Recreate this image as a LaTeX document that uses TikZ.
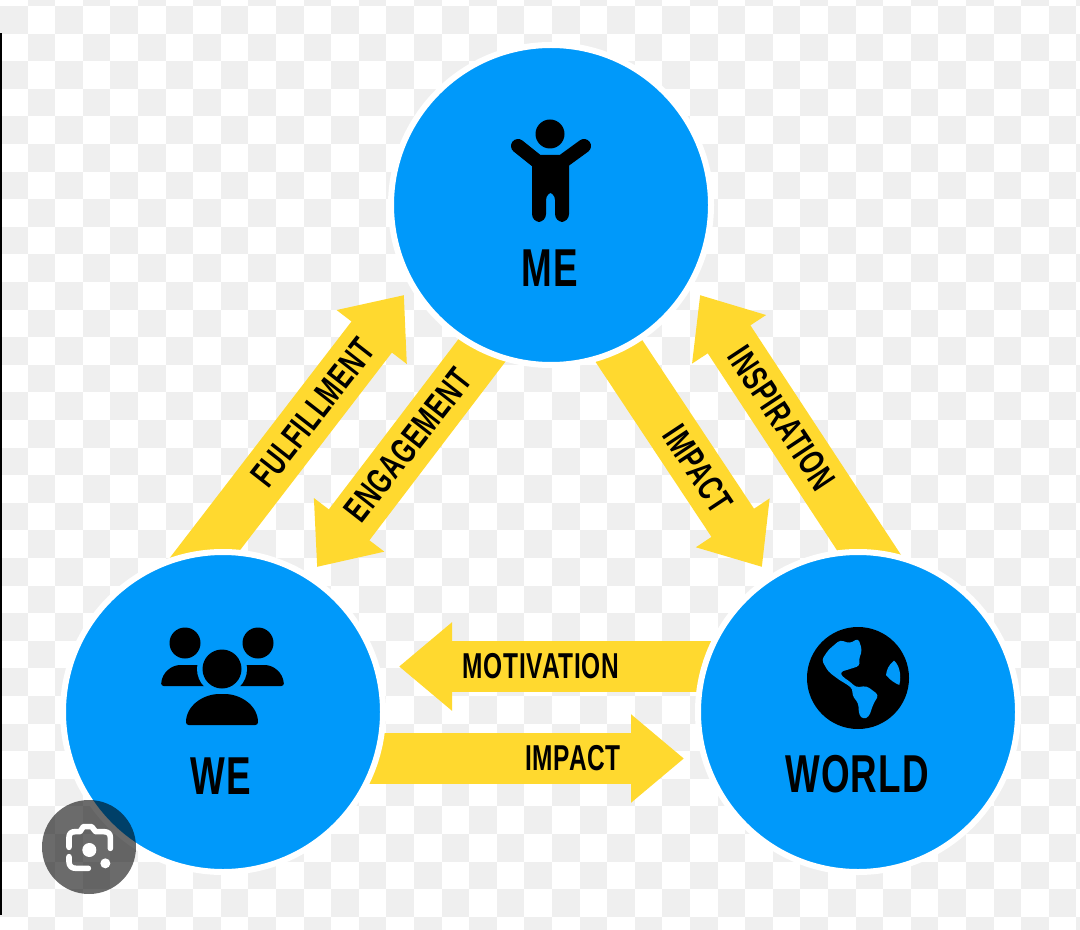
\documentclass[tikz,border=0pt]{standalone}
\usepackage{fontspec}
\usetikzlibrary{arrows.meta}
\setmainfont[LetterSpace=3,BoldFont={Liberation Sans Bold}]{Liberation Sans}
\definecolor{bluefill}{HTML}{0099FA}
\definecolor{yellowfill}{HTML}{FFD92F}
\definecolor{cellgrey}{HTML}{EFEFEF}
\pgfdeclarelayer{arrowlayer}
\pgfdeclarelayer{checker}
\pgfsetlayers{checker,arrowlayer,main}
\tikzset{
  hub/.style={circle,fill=bluefill,draw=white,line width=4.5pt,minimum size=240pt,inner sep=0pt},
  hublabel/.style={font=\fontsize{40}{40}\selectfont\bfseries,inner sep=0pt,text=black,xscale=0.69},
  bandlabel/.style={font=\fontsize{27}{27}\selectfont\bfseries,inner sep=0pt,text=black,xscale=0.68},
  bandarrow/.style={draw=yellowfill,line width=38.25pt,-{Triangle[length=39.75pt,width=63.75pt,fill=yellowfill]}},
  icon/.style={fill=black,draw=none},
  lensline/.style={draw=white,line width=4.2pt,line cap=round,line join=round}
}
\begin{document}
\begin{tikzpicture}[x=0.75pt,y=-0.75pt]
\useasboundingbox (0,0) rectangle (1080,930);
\begin{pgfonlayer}{checker}
\fill[white] (0,0) rectangle (1080,930);
\foreach \i in {0,...,39}{\foreach \j in {-1,...,33}{
  \pgfmathtruncatemacro{\cellpar}{mod(\i+\j+100,2)}
  \ifnum\cellpar=0
    \fill[cellgrey] ({\i*27.6},{6+\j*27.6}) rectangle ++(27.6,27.6);
  \fi
}}
\end{pgfonlayer}
% hubs
\node[hub] (me) at (551,205) {};
\node[hub] (we) at (223,712) {};
\node[hub] (world) at (858,712) {};
% arrows
\coordinate (fulS) at (188,576); \coordinate (fulT) at (404,295);
\coordinate (engS) at (499,328); \coordinate (engT) at (317,567);
\coordinate (impS) at (603,327); \coordinate (impT) at (762,567);
\coordinate (insS) at (885,577); \coordinate (insT) at (700,295);
\coordinate (motS) at (740,666.5); \coordinate (motT) at (399,666.5);
\coordinate (hipS) at (350,758.5); \coordinate (hipT) at (684,758.5);
\begin{pgfonlayer}{arrowlayer}
\draw[bandarrow] (fulS) -- (fulT);
\draw[bandarrow] (engS) -- (engT);
\draw[bandarrow] (impS) -- (impT);
\draw[bandarrow] (insS) -- (insT);
\draw[bandarrow] (motS) -- (motT);
\draw[bandarrow] (hipS) -- (hipT);
\end{pgfonlayer}
% labels
\node[hublabel] (melab) at (550,268) {ME};
\node[hublabel] (welab) at (221,776) {WE};
\node[hublabel] (worldlab) at (857,774) {WORLD};
\node[rotate=52,bandlabel] (l1) at (313,413) {FULFILLMENT};
\node[rotate=52,bandlabel] (l2) at (408,445) {ENGAGEMENT};
\node[rotate=-56.5,bandlabel] (l3) at (698,469) {IMPACT};
\node[rotate=-56.5,bandlabel] (l4) at (782,418) {INSPIRATION};
\node[bandlabel] (l5) at (541,666) {MOTIVATION};
\node[bandlabel] (l6) at (573,758) {IMPACT};
% person icon
\fill[icon] (550,134) circle (14.5);
\draw[black,line width=10.5pt,line cap=round,line join=round] (518,146) -- (538,162) -- (562,162) -- (584,146);
\fill[icon,rounded corners=6pt] (532,156) -- (569,156) -- (569,222) -- (555,222) -- (555,192) -- (546,192) -- (546,222) -- (532,222) -- cycle;
% group icon
\fill[icon] (185,643) circle (15.5);
\fill[icon] (258,643) circle (15.5);
\fill[icon,rounded corners=2pt] (161,686) .. controls (162,672) and (172,665) .. (183,665) -- (200,665) -- (212,686) -- cycle;
\fill[icon,rounded corners=2pt] (284,686) .. controls (283,672) and (273,665) .. (262,665) -- (245,665) -- (233,686) -- cycle;
\fill[bluefill] (222,669) circle (25);
\fill[icon] (222,669) circle (19.5);
\fill[icon,rounded corners=2pt] (186,725) .. controls (186,705) and (204,694) .. (222,694) .. controls (240,694) and (258,705) .. (258,725) -- cycle;
% globe icon
\fill[icon] (858,678) circle (51);
\begin{scope}[shift={(760,600)},x=0.25pt,y=-0.25pt]
\fill[bluefill,rounded corners=2.5pt] (185,180) -- (205,150) -- (240,120) -- (270,130) -- (295,115) -- (306,150) -- (296,182) -- (300,197) -- (270,207) -- (240,216) -- (247,230) -- (270,245) -- (288,262) -- (320,258) -- (356,285) -- (340,312) -- (327,350) -- (310,358) -- (297,345) -- (295,310) -- (276,285) -- (279,268) -- (262,254) -- (238,240) -- (205,215) -- cycle;
\fill[bluefill] (402,182) .. controls (385,195) and (380,210) .. (378,225) .. controls (390,240) and (405,250) .. (418,255) .. controls (425,225) and (418,195) .. (402,182) -- cycle;
\end{scope}
% lens badge
\fill[black,opacity=0.58] (89,847) circle (47);
\begin{scope}[shift={(0,600)},x=0.25pt,y=-0.25pt]
\draw[lensline] (207,742) -- (207,712) .. controls (207,700) and (215,695) .. (225,695) -- (240,695) -- (250,680) -- (275,680) -- (287,695) -- (312,695) .. controls (325,695) and (331,702) .. (331,712) -- (331,745);
\draw[lensline] (207,770) -- (207,785) .. controls (207,798) and (215,805) .. (228,805) -- (265,805);
\fill[white] (268,750) circle (21);
\fill[white] (316,790) circle (15);
\end{scope}
% left edge
\fill[black] (0,33) rectangle (1.6,915);
\end{tikzpicture}
\end{document}
